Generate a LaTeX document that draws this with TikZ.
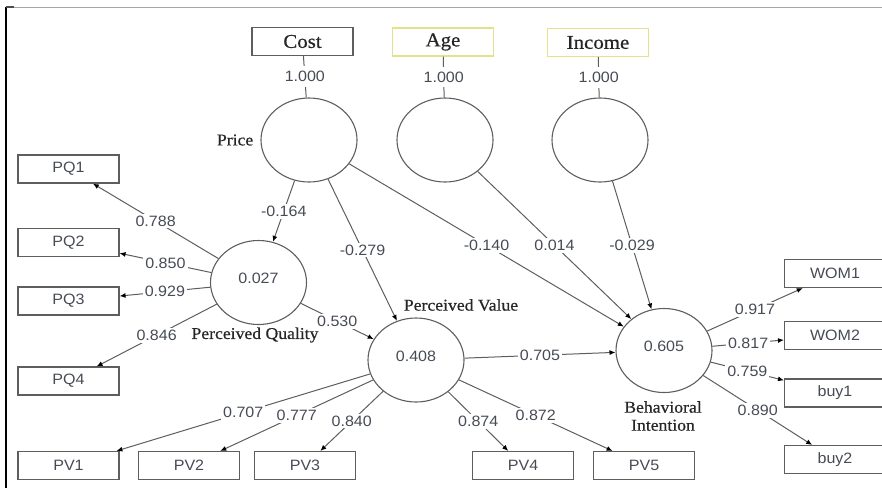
\documentclass[tikz,border=0pt]{standalone}
\usepackage{fontspec}
\setmainfont{Liberation Sans}[FakeStretch=1.07]
\newfontfamily\namefont{Liberation Serif}[FakeStretch=1.07, FakeBold=0.6]
\usepackage{tikz}
\usetikzlibrary{arrows.meta}
\usetikzlibrary{shapes.geometric}
\usetikzlibrary{positioning}

\definecolor{linegray}{HTML}{5E5E5E}
\definecolor{numgray}{HTML}{474B54}
\definecolor{boxyellow}{HTML}{E2E28A}

\begin{document}
\begin{tikzpicture}[x=1pt, y=-1pt,
	lv/.style={ellipse, draw=linegray, line width=1.1pt, minimum width=96pt, minimum height=84pt, inner sep=0pt, text=numgray, font=\fontsize{15}{15}\selectfont, text depth=8pt},
	ind/.style={rectangle, draw=linegray, line width=1.1pt, minimum width=101pt, minimum height=28pt, inner sep=0pt, text=numgray, font=\fontsize{15}{15}\selectfont},
	demobox/.style={ind, text=black!85, font=\namefont\fontsize{19.5}{19.5}\selectfont},
	lvname/.style={text=black!85, font=\namefont\fontsize{16.5}{18}\selectfont, align=center, inner sep=0pt},
	coef/.style={fill=white, inner sep=2pt, text=numgray, font=\fontsize{15}{15}\selectfont},
	link/.style={draw=linegray, line width=1pt},
	arr/.style={link, arrows=-{Latex[length=6pt, width=5pt, color=black]}}]
	\useasboundingbox (0,0) rectangle (882,488);
	% marco
	\draw [black!35, line width=1pt] (6,7) -- (882,7);
	\draw [black, line width=1.6pt] (6,7) -- (6,488);
	\draw [black!70, line width=1.4pt] (6,7) -- (14,7);

	% constructos
	\node [lv] (price) at (309,140) {};
	\node [lv] (agelv) at (445,140) {};
	\node [lv] (inclv) at (600,140) {};
	\node [lv] (pq) at (258.5,282.5) {0.027};
	\node [lv] (pv) at (416,360) {0.408};
	\node [lv] (bi) at (664,350.5) {0.605};
	\node [lvname, left= 7pt of price] {Price};
	\node [lvname] at (255,335) {Perceived Quality};
	\node [lvname] at (461,305) {Perceived Value};
	\node [lvname] at (663,416) {Behavioral\\Intention};

	% indicadores de un solo item
	\node [demobox] (cost) at (302.5,41.5) {Cost};
	\node [demobox, draw=boxyellow] (age) at (443,42) {Age};
	\node [demobox, draw=boxyellow] (income) at (598,42.5) {Income};
	\draw [link] (cost) -- node [coef, inner ysep=5pt] {1.000} (price);
	\draw [link] (age) -- node [coef, inner ysep=5pt] {1.000} (agelv);
	\draw [link] (income) -- node [coef, inner ysep=5pt] {1.000} (inclv);

	% indicadores
	\node [ind] (pq1) at (68.5,169) {PQ1};
	\node [ind] (pq2) at (68.5,242.5) {PQ2};
	\node [ind] (pq3) at (68.5,301) {PQ3};
	\node [ind] (pq4) at (68.5,381) {PQ4};
	\node [ind] (pv1) at (68.5,465.5) {PV1};
	\node [ind] (pv2) at (189,465.5) {PV2};
	\node [ind] (pv3) at (305,465.5) {PV3};
	\node [ind] (pv4) at (523,465.5) {PV4};
	\node [ind] (pv5) at (644,465.5) {PV5};
	\node [ind] (wom1) at (835,273.5) {WOM1};
	\node [ind] (wom2) at (835,335.5) {WOM2};
	\node [ind] (buy1) at (835,393) {buy1};
	\node [ind] (buy2) at (835,459.5) {buy2};

	% cargas
	\draw [arr] (pq) -- node [coef] {0.788} (pq1);
	\draw [arr] (pq) -- node [coef] {0.850} (pq2);
	\draw [arr] (pq) -- node [coef] {0.929} (pq3);
	\draw [arr] (pq) -- node [coef] {0.846} (pq4);
	\draw [arr] (pv) -- node [coef] {0.707} (pv1);
	\draw [arr] (pv) -- node [coef] {0.777} (pv2);
	\draw [arr] (pv) -- node [coef] {0.840} (pv3);
	\draw [arr] (pv) -- node [coef] {0.874} (pv4);
	\draw [arr] (pv) -- node [coef] {0.872} (pv5);
	\draw [arr] (bi) -- node [coef] {0.917} (wom1);
	\draw [arr] (bi) -- node [coef] {0.817} (wom2);
	\draw [arr] (bi) -- node [coef] {0.759} (buy1);
	\draw [arr] (bi) -- node [coef] {0.890} (buy2);

	% caminos estructurales
	\draw [arr] (price) -- node [coef] {-0.164} (pq);
	\draw [arr] (price) -- node [coef] {-0.279} (pv);
	\draw [arr] (price) -- node [coef] {-0.140} (bi);
	\draw [arr] (agelv) -- node [coef] {0.014} (bi);
	\draw [arr] (inclv) -- node [coef] {-0.029} (bi);
	\draw [arr] (pq) -- node [coef] {0.530} (pv);
	\draw [arr] (pv) -- node [coef] {0.705} (bi);
\end{tikzpicture}
\end{document}
